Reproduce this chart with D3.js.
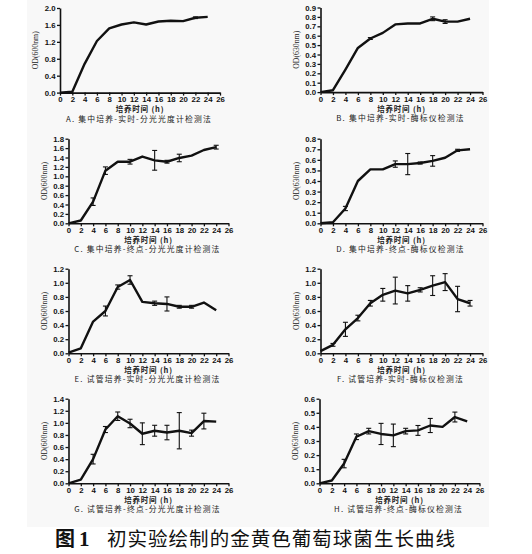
<!DOCTYPE html>
<html>
<head>
<meta charset="utf-8">
<script src="https://cdn.jsdelivr.net/npm/d3@7"></script>
<style>
  body { margin: 0; background: #fff; }
  svg { display: block; }
  .tick text { font-family: Arial, "Liberation Sans", sans-serif; font-weight: bold; font-size: 7.8px; fill: #111; }
</style>
</head>
<body>
<div id="wrapper"></div>
<script>
// DATA
const hours = [0, 2, 4, 6, 8, 10, 12, 14, 16, 18, 20, 22, 24]
const xTicks = [0, 2, 4, 6, 8, 10, 12, 14, 16, 18, 20, 22, 24, 26]

const valuesA = [0.0, 0.02, 0.68, 1.22, 1.52, 1.61, 1.66, 1.61, 1.68, 1.70, 1.69, 1.77, 1.79]
const errorsA = [0, 0, 0, 0, 0, 0, 0, 0, 0, 0, 0, 0.02, 0]

const valuesB = [0.0, 0.02, 0.24, 0.47, 0.57, 0.63, 0.72, 0.73, 0.73, 0.78, 0.75, 0.75, 0.78]
const errorsB = [0, 0, 0, 0, 0.01, 0, 0, 0, 0, 0.02, 0.02, 0, 0]

const valuesC = [0.0, 0.06, 0.46, 1.12, 1.31, 1.31, 1.42, 1.34, 1.31, 1.39, 1.44, 1.56, 1.62]
const errorsC = [0, 0, 0.08, 0.08, 0, 0.05, 0, 0.21, 0.03, 0.08, 0, 0, 0.04]

const valuesD = [0.0, 0.01, 0.14, 0.40, 0.51, 0.51, 0.56, 0.56, 0.57, 0.59, 0.62, 0.69, 0.70]
const errorsD = [0, 0, 0.02, 0, 0, 0, 0.03, 0.10, 0.01, 0.05, 0, 0.01, 0]

const valuesE = [0.01, 0.07, 0.45, 0.60, 0.94, 1.04, 0.73, 0.71, 0.70, 0.66, 0.66, 0.72, 0.61]
const errorsE = [0, 0, 0, 0.07, 0.03, 0.06, 0, 0.03, 0.10, 0.02, 0.02, 0, 0]

const valuesF = [0.03, 0.12, 0.34, 0.50, 0.71, 0.83, 0.89, 0.85, 0.90, 0.96, 1.01, 0.77, 0.71]
const errorsF = [0, 0.02, 0.10, 0.04, 0.04, 0.09, 0.19, 0.11, 0.03, 0.14, 0.12, 0.18, 0.04]

const valuesG = [0.0, 0.06, 0.40, 0.89, 1.11, 0.99, 0.82, 0.87, 0.84, 0.87, 0.83, 1.03, 1.02]
const errorsG = [0, 0, 0.08, 0.05, 0.07, 0.07, 0.18, 0.09, 0.12, 0.30, 0.05, 0.13, 0]

const valuesH = [0.0, 0.02, 0.14, 0.33, 0.37, 0.35, 0.34, 0.37, 0.375, 0.41, 0.40, 0.47, 0.44]
const errorsH = [0, 0, 0.03, 0.02, 0.02, 0.075, 0.08, 0.02, 0.035, 0.05, 0, 0.035, 0]

const yTicksA = [0, 0.4, 0.8, 1.2, 1.6, 2.0]
const yTicksB = [0, 0.1, 0.2, 0.3, 0.4, 0.5, 0.6, 0.7, 0.8, 0.9]
const yTicksC = [0, 0.2, 0.4, 0.6, 0.8, 1.0, 1.2, 1.4, 1.6, 1.8]
const yTicksD = [0, 0.1, 0.2, 0.3, 0.4, 0.5, 0.6, 0.7, 0.8]
const yTicksE = [0, 0.2, 0.4, 0.6, 0.8, 1.0, 1.2]
const yTicksF = [0, 0.2, 0.4, 0.6, 0.8, 1.0, 1.2]
const yTicksG = [0, 0.2, 0.4, 0.6, 0.8, 1.0, 1.2, 1.4]
const yTicksH = [0, 0.1, 0.2, 0.3, 0.4, 0.5, 0.6]

const yLabels = ["OD(600nm)", "OD(630nm)", "OD(600nm)", "OD(630nm)", "OD(600nm)", "OD(630nm)", "OD(600nm)", "OD(630nm)"]
const panelTitles = [
  "A. 集中培养-实时-分光光度计检测法",
  "B. 集中培养-实时-酶标仪检测法",
  "C. 集中培养-终点-分光光度计检测法",
  "D. 集中培养-终点-酶标仪检测法",
  "E. 试管培养-实时-分光光度计检测法",
  "F. 试管培养-实时-酶标仪检测法",
  "G. 试管培养-终点-分光光度计检测法",
  "H. 试管培养-终点-酶标仪检测法"
]
const xLabel = "培养时间 (h)"
const figureCaption = "初实验绘制的金黄色葡萄球菌生长曲线"

const panels = [
  { values: valuesA, errors: errorsA, yTicks: yTicksA, x: 60, y: 8, w: 160 },
  { values: valuesB, errors: errorsB, yTicks: yTicksB, x: 320.5, y: 7.5, w: 162 },
  { values: valuesC, errors: errorsC, yTicks: yTicksC, x: 68.5, y: 138.7, w: 160 },
  { values: valuesD, errors: errorsD, yTicks: yTicksD, x: 320.5, y: 138.7, w: 162 },
  { values: valuesE, errors: errorsE, yTicks: yTicksE, x: 68.5, y: 268.7, w: 160 },
  { values: valuesF, errors: errorsF, yTicks: yTicksF, x: 320.5, y: 268.7, w: 162 },
  { values: valuesG, errors: errorsG, yTicks: yTicksG, x: 68.5, y: 398.7, w: 160 },
  { values: valuesH, errors: errorsH, yTicks: yTicksH, x: 319.5, y: 398.7, w: 160 }
]

// CHART AREA
const width = 532
const height = 554
const plotHeight = 84.6
const cjk = '"Noto Sans CJK SC", "Noto Sans", sans-serif'

const svg = d3.select("#wrapper").append("svg")
  .attr("width", width)
  .attr("height", height)

svg.append("rect")
  .attr("x", 27).attr("y", 0)
  .attr("width", 462).attr("height", 527)
  .attr("fill", "#f8f8f8")

panels.forEach((p, i) => {
  const g = svg.append("g").attr("transform", `translate(${p.x},${p.y})`)

  const xScale = d3.scaleLinear().domain([0, 26]).range([0, p.w])
  const yScale = d3.scaleLinear().domain([0, d3.max(p.yTicks)]).range([plotHeight, 0])

  const xAxis = g.append("g")
    .attr("transform", `translate(0,${plotHeight})`)
    .call(d3.axisBottom(xScale).tickValues(xTicks).tickSize(3).tickPadding(1).tickSizeOuter(0))
  const yAxis = g.append("g")
    .call(d3.axisLeft(yScale).tickValues(p.yTicks).tickFormat(d3.format(".1f")).tickSize(3).tickPadding(1.5).tickSizeOuter(0))

  ;[xAxis, yAxis].forEach(a => {
    a.select(".domain").attr("stroke", "#111").attr("stroke-width", 1.6)
    a.selectAll(".tick line").attr("stroke", "#111").attr("stroke-width", 1.3)
  })

  // error bars
  const bars = hours.map((h, j) => ({ h, v: p.values[j], e: p.errors[j] })).filter(d => d.e > 0)
  const eb = g.append("g").attr("stroke", "#111").attr("stroke-width", 1.1)
  eb.selectAll("line.v").data(bars).join("line").attr("class", "v")
    .attr("x1", d => xScale(d.h)).attr("x2", d => xScale(d.h))
    .attr("y1", d => yScale(d.v - d.e)).attr("y2", d => yScale(d.v + d.e))
  eb.selectAll("line.t").data(bars).join("line").attr("class", "t")
    .attr("x1", d => xScale(d.h) - 2.5).attr("x2", d => xScale(d.h) + 2.5)
    .attr("y1", d => yScale(d.v + d.e)).attr("y2", d => yScale(d.v + d.e))
  eb.selectAll("line.b").data(bars).join("line").attr("class", "b")
    .attr("x1", d => xScale(d.h) - 2.5).attr("x2", d => xScale(d.h) + 2.5)
    .attr("y1", d => yScale(d.v - d.e)).attr("y2", d => yScale(d.v - d.e))

  // growth curve
  const line = d3.line().x((d, j) => xScale(hours[j])).y(d => yScale(d))
  g.append("path")
    .datum(p.values)
    .attr("d", line)
    .attr("fill", "none")
    .attr("stroke", "#111")
    .attr("stroke-width", 2.4)
    .attr("stroke-linejoin", "round")

  // labels
  g.append("text")
    .attr("transform", `translate(${-22},${plotHeight / 2}) rotate(-90)`)
    .attr("text-anchor", "middle")
    .attr("font-family", '"Liberation Serif", serif')
    .attr("font-size", 7.8)
    .attr("fill", "#222")
    .text(yLabels[i])

  g.append("text")
    .attr("x", p.w / 2).attr("y", plotHeight + 19.5)
    .attr("text-anchor", "middle")
    .attr("font-family", cjk)
    .attr("font-weight", "bold")
    .attr("font-size", 7.5)
    .attr("letter-spacing", 0.8)
    .attr("fill", "#222")
    .text(xLabel)

  g.append("text")
    .attr("x", p.w / 2 - 1).attr("y", plotHeight + 29)
    .attr("text-anchor", "middle")
    .attr("font-family", cjk)
    .attr("font-size", 7.8)
    .attr("letter-spacing", 1.2)
    .attr("fill", "#222")
    .text(panelTitles[i])
})

// FIGURE CAPTION
svg.append("text")
  .attr("x", 55).attr("y", 546)
  .attr("font-family", cjk)
  .attr("font-weight", "bold")
  .attr("font-size", 20)
  .attr("fill", "#111")
  .text("图")
svg.append("text")
  .attr("x", 79).attr("y", 546)
  .attr("font-family", '"Liberation Serif", serif')
  .attr("font-weight", "bold")
  .attr("font-size", 21)
  .attr("fill", "#111")
  .text("1")
svg.append("text")
  .attr("x", 107).attr("y", 546)
  .attr("font-family", cjk)
  .attr("font-size", 19.5)
  .attr("textLength", 348)
  .attr("lengthAdjust", "spacing")
  .attr("fill", "#111")
  .text(figureCaption)
</script>
</body>
</html>
